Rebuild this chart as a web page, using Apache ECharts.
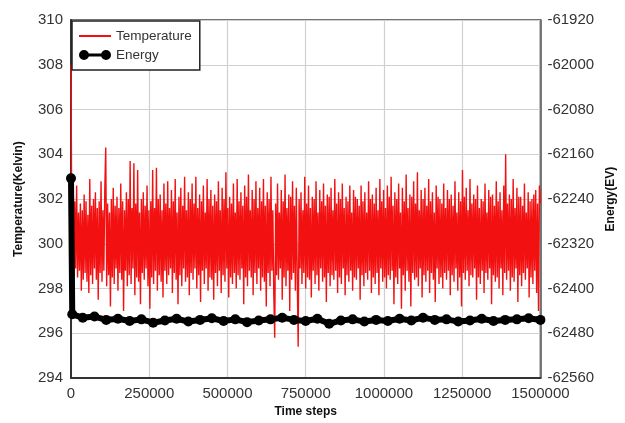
<!DOCTYPE html>
<html>
<head>
<meta charset="utf-8">
<script src="https://cdn.jsdelivr.net/npm/echarts@6/dist/echarts.min.js"></script>
<style>
  html, body { margin: 0; padding: 0; background: #fff; }
  #chart { width: 625px; height: 423px; }
</style>
</head>
<body>
<div id="chart"></div>
<script>
// time between temperature samples
const sampleStep = 3000;

// temperature (K)
const temperature = [
  308.0, 298.6, 301.7, 298.2, 301.9, 298.9, 302.6, 298.5, 301.4, 298.8, 301.8, 297.9, 301.5, 298.4, 302.2, 298.7, 301.9, 298.3, 301.3, 297.8, 302.9, 298.6, 301.7, 298.2, 302.0,
  298.9, 302.3, 298.4, 301.6, 297.5, 301.9, 298.7, 302.8, 298.3, 301.5, 298.8, 302.4, 304.3, 298.1, 301.8, 298.6, 301.4, 297.2, 302.0, 298.5, 302.5, 298.2, 301.7, 298.9, 302.1,
  297.9, 301.6, 298.7, 302.7, 298.4, 301.9, 297.0, 301.5, 298.8, 302.3, 298.1, 302.0, 298.6, 303.7, 298.2, 301.6, 298.9, 303.6, 297.7, 301.8, 298.5, 303.3, 298.3, 301.4, 297.3,
  302.0, 298.7, 302.3, 298.4, 301.7, 298.9, 302.6, 298.1, 301.5, 297.1, 301.9, 298.5, 303.3, 298.2, 301.6, 298.8, 303.4, 297.9, 302.0, 298.6, 302.2, 298.3, 301.5, 297.6, 302.7,
  298.8, 301.8, 298.2, 302.8, 298.6, 301.6, 298.9, 302.4, 297.8, 301.9, 298.7, 302.9, 298.4, 301.4, 297.3, 302.1, 298.6, 302.5, 298.1, 301.7, 298.9, 303.0, 298.3, 301.5, 298.5,
  302.3, 297.7, 302.0, 298.7, 302.7, 298.4, 301.8, 298.9, 303.0, 298.0, 301.6, 298.6, 302.2, 297.4, 301.9, 298.8, 302.6, 298.2, 301.4, 298.9, 302.9, 297.9, 302.0, 298.5, 302.4,
  298.4, 301.7, 297.5, 302.2, 298.7, 301.9, 298.1, 302.8, 298.8, 301.5, 297.8, 302.5, 298.6, 302.0, 298.3, 303.2, 298.9, 301.6, 297.6, 302.1, 298.5, 301.8, 298.2, 302.7, 298.7,
  301.4, 298.0, 302.9, 298.6, 301.9, 298.4, 302.3, 298.9, 301.7, 297.3, 302.6, 298.5, 302.1, 298.1, 303.1, 298.8, 301.5, 298.5, 302.4, 297.7, 302.0, 298.7, 302.8, 298.2, 301.6,
  298.9, 302.5, 297.9, 301.9, 298.5, 302.9, 298.3, 301.7, 297.2, 302.3, 298.7, 302.0, 298.1, 303.0, 298.8, 301.5, 297.8, 295.8, 301.8, 298.6, 302.7, 298.4, 301.4, 298.9, 302.4,
  297.5, 301.9, 298.5, 303.1, 298.1, 301.6, 298.8, 302.2, 297.0, 302.1, 298.4, 302.8, 298.7, 301.7, 297.9, 302.5, 298.5, 295.4, 302.0, 298.9, 302.3, 298.2, 301.5, 298.7, 303.0,
  298.0, 301.8, 298.5, 302.6, 298.4, 301.6, 297.6, 302.1, 298.8, 302.0, 298.2, 302.8, 298.6, 301.4, 297.9, 302.4, 298.9, 301.9, 298.3, 302.7, 298.5, 301.7, 297.4, 302.2, 298.7,
  302.1, 298.1, 302.5, 298.6, 301.5, 298.4, 302.9, 298.8, 301.8, 297.8, 302.3, 298.5, 302.0, 298.2, 302.7, 298.9, 301.6, 297.7, 302.1, 298.6, 301.9, 298.3, 302.6, 298.8, 301.4,
  297.9, 302.4, 298.5, 302.1, 298.4, 302.0, 298.9, 301.7, 297.5, 302.6, 298.6, 301.9, 298.1, 302.3, 298.7, 301.4, 298.4, 302.8, 298.8, 302.0, 297.8, 302.2, 298.5, 301.8, 298.2,
  302.5, 298.7, 301.5, 297.7, 302.9, 298.9, 301.9, 298.3, 302.4, 298.5, 301.6, 298.0, 302.6, 298.6, 302.1, 298.4, 303.0, 298.8, 301.7, 297.3, 302.3, 298.5, 302.0, 298.2, 302.7,
  298.9, 301.4, 297.1, 302.5, 298.6, 301.9, 297.9, 303.1, 298.8, 301.6, 298.3, 302.2, 297.2, 302.1, 298.7, 302.8, 298.4, 301.8, 298.5, 303.2, 298.1, 301.5, 298.9, 302.4, 297.6,
  302.0, 298.6, 302.5, 298.3, 301.7, 298.8, 302.9, 297.8, 301.9, 298.7, 302.3, 298.4, 301.4, 297.4, 302.6, 298.9, 302.1, 298.2, 302.0, 298.5, 301.8, 298.0, 302.7, 298.7, 301.6,
  298.4, 302.4, 298.8, 302.0, 297.7, 302.2, 298.6, 301.7, 298.3, 302.8, 298.9, 301.4, 297.9, 302.3, 298.5, 301.9, 297.2, 303.3, 298.7, 302.1, 298.4, 302.5, 298.8, 301.5, 298.1,
  302.9, 298.6, 301.8, 298.5, 302.2, 298.9, 302.0, 297.5, 302.6, 298.5, 301.6, 298.2, 302.0, 298.8, 301.9, 297.8, 302.7, 298.7, 301.4, 298.4, 302.4, 298.9, 302.1, 297.3, 302.2,
  298.6, 301.7, 298.3, 302.8, 298.5, 301.9, 298.0, 302.3, 298.9, 301.5, 297.7, 302.6, 298.7, 304.0, 298.4, 301.8, 298.8, 302.2, 297.9, 302.0, 298.5, 302.9, 298.3, 301.6, 298.9,
  302.5, 297.4, 302.1, 298.6, 302.1, 298.1, 301.7, 298.7, 302.7, 298.4, 301.4, 298.9, 302.3, 297.6, 301.9, 298.5, 302.0, 298.2, 302.2, 298.8, 302.4, 297.8, 301.8, 297.0, 302.6,
  301.8
];

// energy (eV) and the time steps it was sampled at
const energySteps = [
  0, 4000, 37500, 75000, 112500, 150000, 187500, 225000, 262500, 300000,
  337500, 375000, 412500, 450000, 487500, 525000, 562500, 600000, 637500, 675000,
  712500, 750000, 787500, 825000, 862500, 900000, 937500, 975000, 1012500, 1050000,
  1087500, 1125000, 1162500, 1200000, 1237500, 1275000, 1312500, 1350000, 1387500, 1425000,
  1462500, 1500000
];
const energy = [
  -62203, -62446, -62452, -62450, -62456, -62454, -62458, -62455, -62461, -62457,
  -62454, -62459, -62456, -62453, -62458, -62455, -62460, -62457, -62455, -62452,
  -62456, -62458, -62454, -62463, -62457, -62455, -62459, -62456, -62458, -62454,
  -62457, -62452, -62456, -62455, -62459, -62457, -62454, -62458, -62456, -62455,
  -62453, -62456
];

const tempTicks = { min: 294, max: 310, interval: 2 };
const energyTicks = { min: -62560, max: -61920, interval: 80 };
const timeTicks = { min: 0, max: 1500000, interval: 250000 };

const tempData = temperature.map((v, i) => [i * sampleStep, v]);
const energyData = energy.map((v, i) => [energySteps[i], v]);

const chart = echarts.init(document.getElementById("chart"));

const labelStyle = {
  fontFamily: "Liberation Sans",
  fontSize: 15,
  color: "#333",
  formatter: (v) => String(v),
};
const nameStyle = {
  fontFamily: "Liberation Sans",
  fontSize: 12,
  fontWeight: "bold",
  color: "#111",
};

chart.setOption({
  animation: false,
  grid: {
    left: 71,
    right: 84,
    top: 20,
    bottom: 44,
    show: true,
    borderColor: "#444",
    borderWidth: 1.5,
  },
  legend: {
    orient: "vertical",
    left: 72,
    top: 21,
    padding: [8, 8, 8, 6],
    itemGap: 5,
    itemWidth: 32,
    itemHeight: 10,
    backgroundColor: "#fff",
    borderColor: "#222",
    borderWidth: 1.5,
    borderRadius: 0,
    textStyle: { fontFamily: "Liberation Sans", fontSize: 13.5, color: "#333" },
    data: [
      { name: "Temperature", itemStyle: { opacity: 0 } },
      {
        name: "Energy",
        icon: "path://M5,0A5,5 0 1,1 5,10A5,5 0 1,1 5,0ZM27,0A5,5 0 1,1 27,10A5,5 0 1,1 27,0ZM5,3.5L27,3.5L27,6.5L5,6.5Z",
      },
    ],
  },
  xAxis: {
    type: "value",
    min: timeTicks.min,
    max: timeTicks.max,
    interval: timeTicks.interval,
    name: "Time steps",
    nameLocation: "middle",
    nameGap: 27,
    nameTextStyle: nameStyle,
    axisLine: { lineStyle: { color: "#333", width: 2 } },
    axisTick: { show: false },
    axisLabel: Object.assign({ margin: 8 }, labelStyle),
    splitLine: { lineStyle: { color: "#d0d0d0", width: 1.2 } },
  },
  yAxis: [
    {
      type: "value",
      min: tempTicks.min,
      max: tempTicks.max,
      interval: tempTicks.interval,
      name: "Temperature(Kelvin)",
      nameLocation: "middle",
      nameGap: 46,
      nameTextStyle: nameStyle,
      axisLine: { show: true, lineStyle: { color: "#333", width: 2 } },
      axisTick: { show: false },
      axisLabel: Object.assign({ margin: 8 }, labelStyle),
      splitLine: { lineStyle: { color: "#d0d0d0", width: 1.2 } },
    },
    {
      type: "value",
      position: "right",
      min: energyTicks.min,
      max: energyTicks.max,
      interval: energyTicks.interval,
      name: "Energy(EV)",
      nameLocation: "middle",
      nameGap: 63,
      nameTextStyle: nameStyle,
      axisLine: { show: true, lineStyle: { color: "#555", width: 1.5 } },
      axisTick: { show: false },
      axisLabel: Object.assign({ margin: 7 }, labelStyle),
      splitLine: { show: false },
    },
  ],
  series: [
    {
      name: "Temperature",
      type: "line",
      yAxisIndex: 0,
      data: tempData,
      symbol: "none",
      lineStyle: { color: "#f21010", width: 1.4 },
      itemStyle: { color: "#f21010" },
      z: 2,
    },
    {
      name: "Energy",
      type: "line",
      yAxisIndex: 1,
      data: energyData,
      symbol: "circle",
      symbolSize: 10,
      showSymbol: true,
      lineStyle: { color: "#000", width: 6 },
      itemStyle: { color: "#000" },
      z: 3,
    },
  ],
});
</script>
</body>
</html>
